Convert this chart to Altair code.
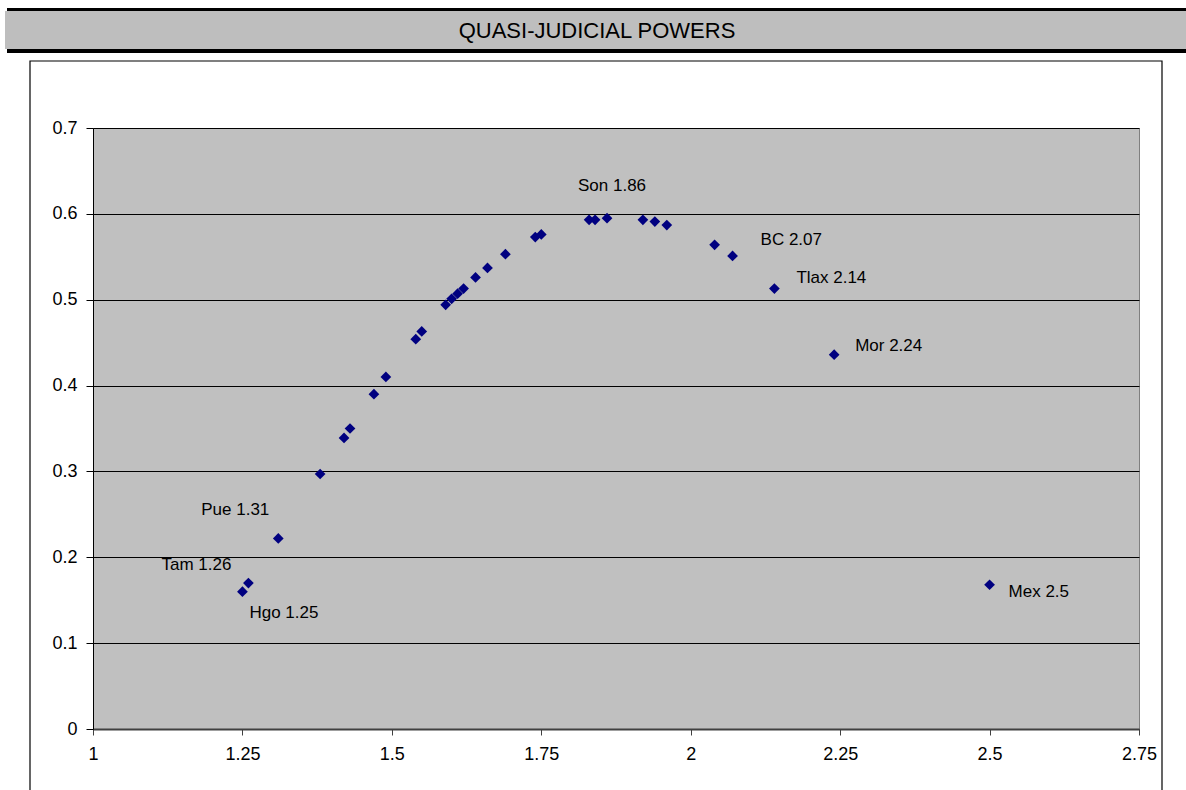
import altair as alt
import pandas as pd

# ---- data ----
x_vals = [1.25, 1.26, 1.31, 1.38, 1.42, 1.43, 1.47, 1.49, 1.54, 1.55,
          1.59, 1.60, 1.61, 1.62, 1.64, 1.66, 1.69, 1.74, 1.75, 1.83,
          1.84, 1.86, 1.92, 1.94, 1.96, 2.04, 2.07, 2.14, 2.24, 2.50]
y_vals = [0.160, 0.170, 0.222, 0.297, 0.339, 0.350, 0.390, 0.410, 0.454, 0.463,
          0.494, 0.501, 0.507, 0.513, 0.526, 0.537, 0.553, 0.573, 0.576, 0.593,
          0.593, 0.595, 0.593, 0.591, 0.587, 0.564, 0.551, 0.513, 0.436, 0.168]
state_names = ["Hgo", "Tam", "Pue", "", "", "", "", "", "", "",
               "", "", "", "", "", "", "", "", "", "",
               "", "Son", "", "", "", "", "BC", "Tlax", "Mor", "Mex"]
x_ticks = [1, 1.25, 1.5, 1.75, 2, 2.25, 2.5, 2.75]
y_ticks = [0, 0.1, 0.2, 0.3, 0.4, 0.5, 0.6, 0.7]
chart_title = "QUASI-JUDICIAL POWERS"

df = pd.DataFrame({"x": x_vals, "y": y_vals, "state": state_names})
df["label"] = [f"{s} {x:g}" if s else "" for s, x in zip(state_names, x_vals)]

FONT = "Liberation Sans"
W, H = 1046, 601
PAD = {"left": 93, "top": 128, "right": 47, "bottom": 61}

x_enc = alt.X("x:Q", scale=alt.Scale(domain=[1, 2.75], nice=False, zero=False),
              axis=alt.Axis(values=x_ticks, format=".2~f", title=None, grid=False,
                            domainColor="#404040", domainWidth=2,
                            tickColor="#404040", tickSize=6, tickWidth=1,
                            labelFontSize=18, labelFont=FONT, labelColor="black",
                            labelPadding=10, labelFlush=False, labelOverlap=False))
y_enc = alt.Y("y:Q", scale=alt.Scale(domain=[0, 0.7], nice=False, zero=False),
              axis=alt.Axis(values=y_ticks, format=".1~f", title=None, grid=True,
                            gridColor="black", gridWidth=1,
                            domainColor="black", domainWidth=1,
                            tickColor="black", tickSize=7,
                            labelFontSize=18, labelFont=FONT, labelColor="black",
                            labelPadding=9, labelFlush=False, labelOverlap=False))

one = alt.Data(values=[{"k": 1}])

frame = alt.Chart(one).mark_rect(fillOpacity=0, stroke="black", strokeWidth=1.2).encode(
    x=alt.value(30 - PAD["left"]), x2=alt.value(1162 - PAD["left"]),
    y=alt.value(61 - PAD["top"]), y2=alt.value(720))
band = alt.Chart(one).mark_rect(color="#BEBEBE").encode(
    x=alt.value(5 - PAD["left"]), x2=alt.value(1186 - PAD["left"]),
    y=alt.value(11 - PAD["top"]), y2=alt.value(49 - PAD["top"]))
top_line = alt.Chart(one).mark_rect(color="black").encode(
    x=alt.value(7 - PAD["left"]), x2=alt.value(1186 - PAD["left"]),
    y=alt.value(8 - PAD["top"]), y2=alt.value(11 - PAD["top"]))
bot_line = alt.Chart(one).mark_rect(color="black").encode(
    x=alt.value(7 - PAD["left"]), x2=alt.value(1186 - PAD["left"]),
    y=alt.value(49 - PAD["top"]), y2=alt.value(53 - PAD["top"]))
title = alt.Chart(one).mark_text(text=chart_title, font=FONT, fontSize=22,
                                 align="center", baseline="middle", color="black").encode(
    x=alt.value(597 - PAD["left"]), y=alt.value(31 - PAD["top"]))

points = alt.Chart(df).mark_point(shape="diamond", filled=True, color="#000080",
                                  size=115, opacity=1).encode(x=x_enc, y=y_enc)

# label placement (pixel offsets from each point), as in the reference
label_style = {
    "Son": (5, -32, "center"),
    "BC": (28, -16, "left"),
    "Tlax": (22, -11, "left"),
    "Mor": (21, -9, "left"),
    "Mex": (19, 7, "left"),
    "Pue": (-9, -28, "right"),
    "Tam": (-17, -18, "right"),
    "Hgo": (7, 21, "left"),
}
label_layers = []
for name, (dx, dy, al) in label_style.items():
    label_layers.append(
        alt.Chart(df).transform_filter(alt.datum.state == name)
        .mark_text(dx=dx, dy=dy, align=al, baseline="middle", font=FONT,
                   fontSize=17, color="black")
        .encode(x=alt.X("x:Q"), y=alt.Y("y:Q"), text="label:N"))

chart = alt.layer(frame, band, top_line, bot_line, title, points, *label_layers).properties(
    width=W, height=H, padding=PAD,
    autosize=alt.AutoSizeParams(type="none"),
    background="white",
).configure_view(fill="#C0C0C0", stroke="#808080", strokeWidth=1)

chart.save("out.html", embed_options={"renderer": "svg", "actions": False})
